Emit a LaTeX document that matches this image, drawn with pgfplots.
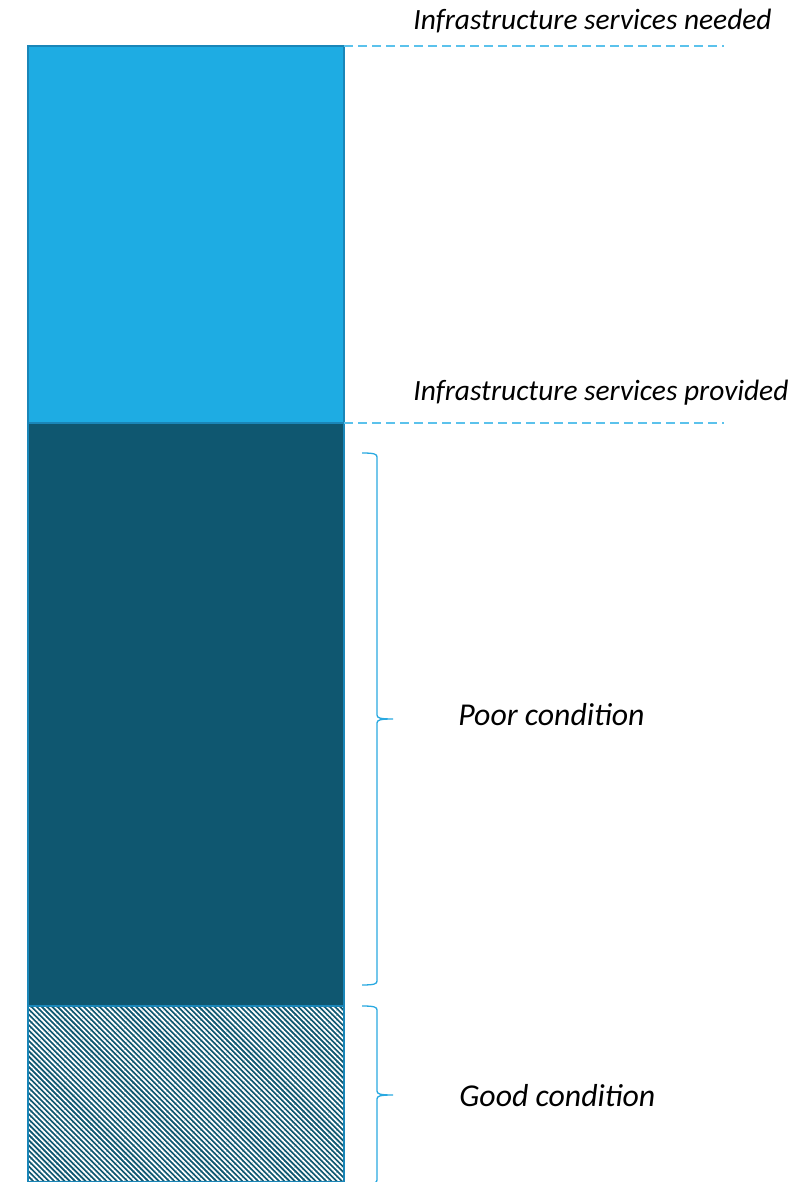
\documentclass[border=0pt]{standalone}
\usepackage{fontspec}
\setmainfont{Carlito}
\usepackage{pgfplots}
\pgfplotsset{compat=1.18}
\usetikzlibrary{patterns.meta}
\definecolor{needc}{HTML}{1EACE3}
\definecolor{poorc}{HTML}{0F5770}
\definecolor{edgec}{HTML}{1A86B8}
\definecolor{dashc}{HTML}{5BC2EC}
\definecolor{bracec}{HTML}{29A9E1}
\begin{document}
\begin{tikzpicture}
\pgfplotsset{base/.style={scale only axis, width=403.5pt, height=591pt,
  xmin=0, xmax=807, ymin=10, ymax=1192, hide axis, clip=false}}
\begin{axis}[base, ybar stacked, bar width=316]
\addplot[fill=poorc, draw=edgec, line width=0.9pt,
  postaction={pattern={Lines[angle=-45,distance=1.85pt,line width=0.85pt]}, pattern color=white}]
  coordinates {(186,186)};
\addplot[fill=poorc, draw=edgec, line width=0.9pt] coordinates {(186,583)};
\addplot[fill=needc, draw=edgec, line width=0.9pt] coordinates {(186,377)};
\end{axis}
\begin{axis}[base]
\addplot[dashc, line width=0.75pt, dash pattern=on 4.5pt off 2.5pt] coordinates {(344,1146) (724,1146)};
\addplot[dashc, line width=0.75pt, dash pattern=on 4.5pt off 2.5pt] coordinates {(344,769) (724,769)};
% brace: poor condition
\draw[bracec, line width=0.65pt]
  (axis cs:362,739) .. controls (axis cs:374,739) and (axis cs:377,738) .. (axis cs:377,735)
  -- (axis cs:377,477) .. controls (axis cs:377,474) and (axis cs:380,473) .. (axis cs:393,473)
  .. controls (axis cs:380,473) and (axis cs:377,472) .. (axis cs:377,469)
  -- (axis cs:377,211) .. controls (axis cs:377,208) and (axis cs:374,207) .. (axis cs:362,207);
% brace: good condition
\draw[bracec, line width=0.65pt]
  (axis cs:362,186) .. controls (axis cs:374,186) and (axis cs:377,185) .. (axis cs:377,182)
  -- (axis cs:377,101) .. controls (axis cs:377,98) and (axis cs:380,97) .. (axis cs:393,97)
  .. controls (axis cs:380,97) and (axis cs:377,96) .. (axis cs:377,93)
  -- (axis cs:377,12) .. controls (axis cs:377,9) and (axis cs:374,8) .. (axis cs:362,8);
\node[anchor=base west, inner sep=0pt, font=\fontsize{14.7}{17}\selectfont\itshape]
  at (axis cs:413,1162) {Infrastructure services needed};
\node[anchor=base west, inner sep=0pt, font=\fontsize{14.7}{17}\selectfont\itshape]
  at (axis cs:413,791) {Infrastructure services provided};
\node[anchor=base west, inner sep=0pt, font=\fontsize{15.9}{18}\selectfont\itshape]
  at (axis cs:458,466) {Poor condition};
\node[anchor=base west, inner sep=0pt, font=\fontsize{15.9}{18}\selectfont\itshape]
  at (axis cs:459,85) {Good condition};
\end{axis}
\pgfresetboundingbox
\useasboundingbox (current axis.south west) rectangle (current axis.north east);
\end{tikzpicture}
\end{document}
